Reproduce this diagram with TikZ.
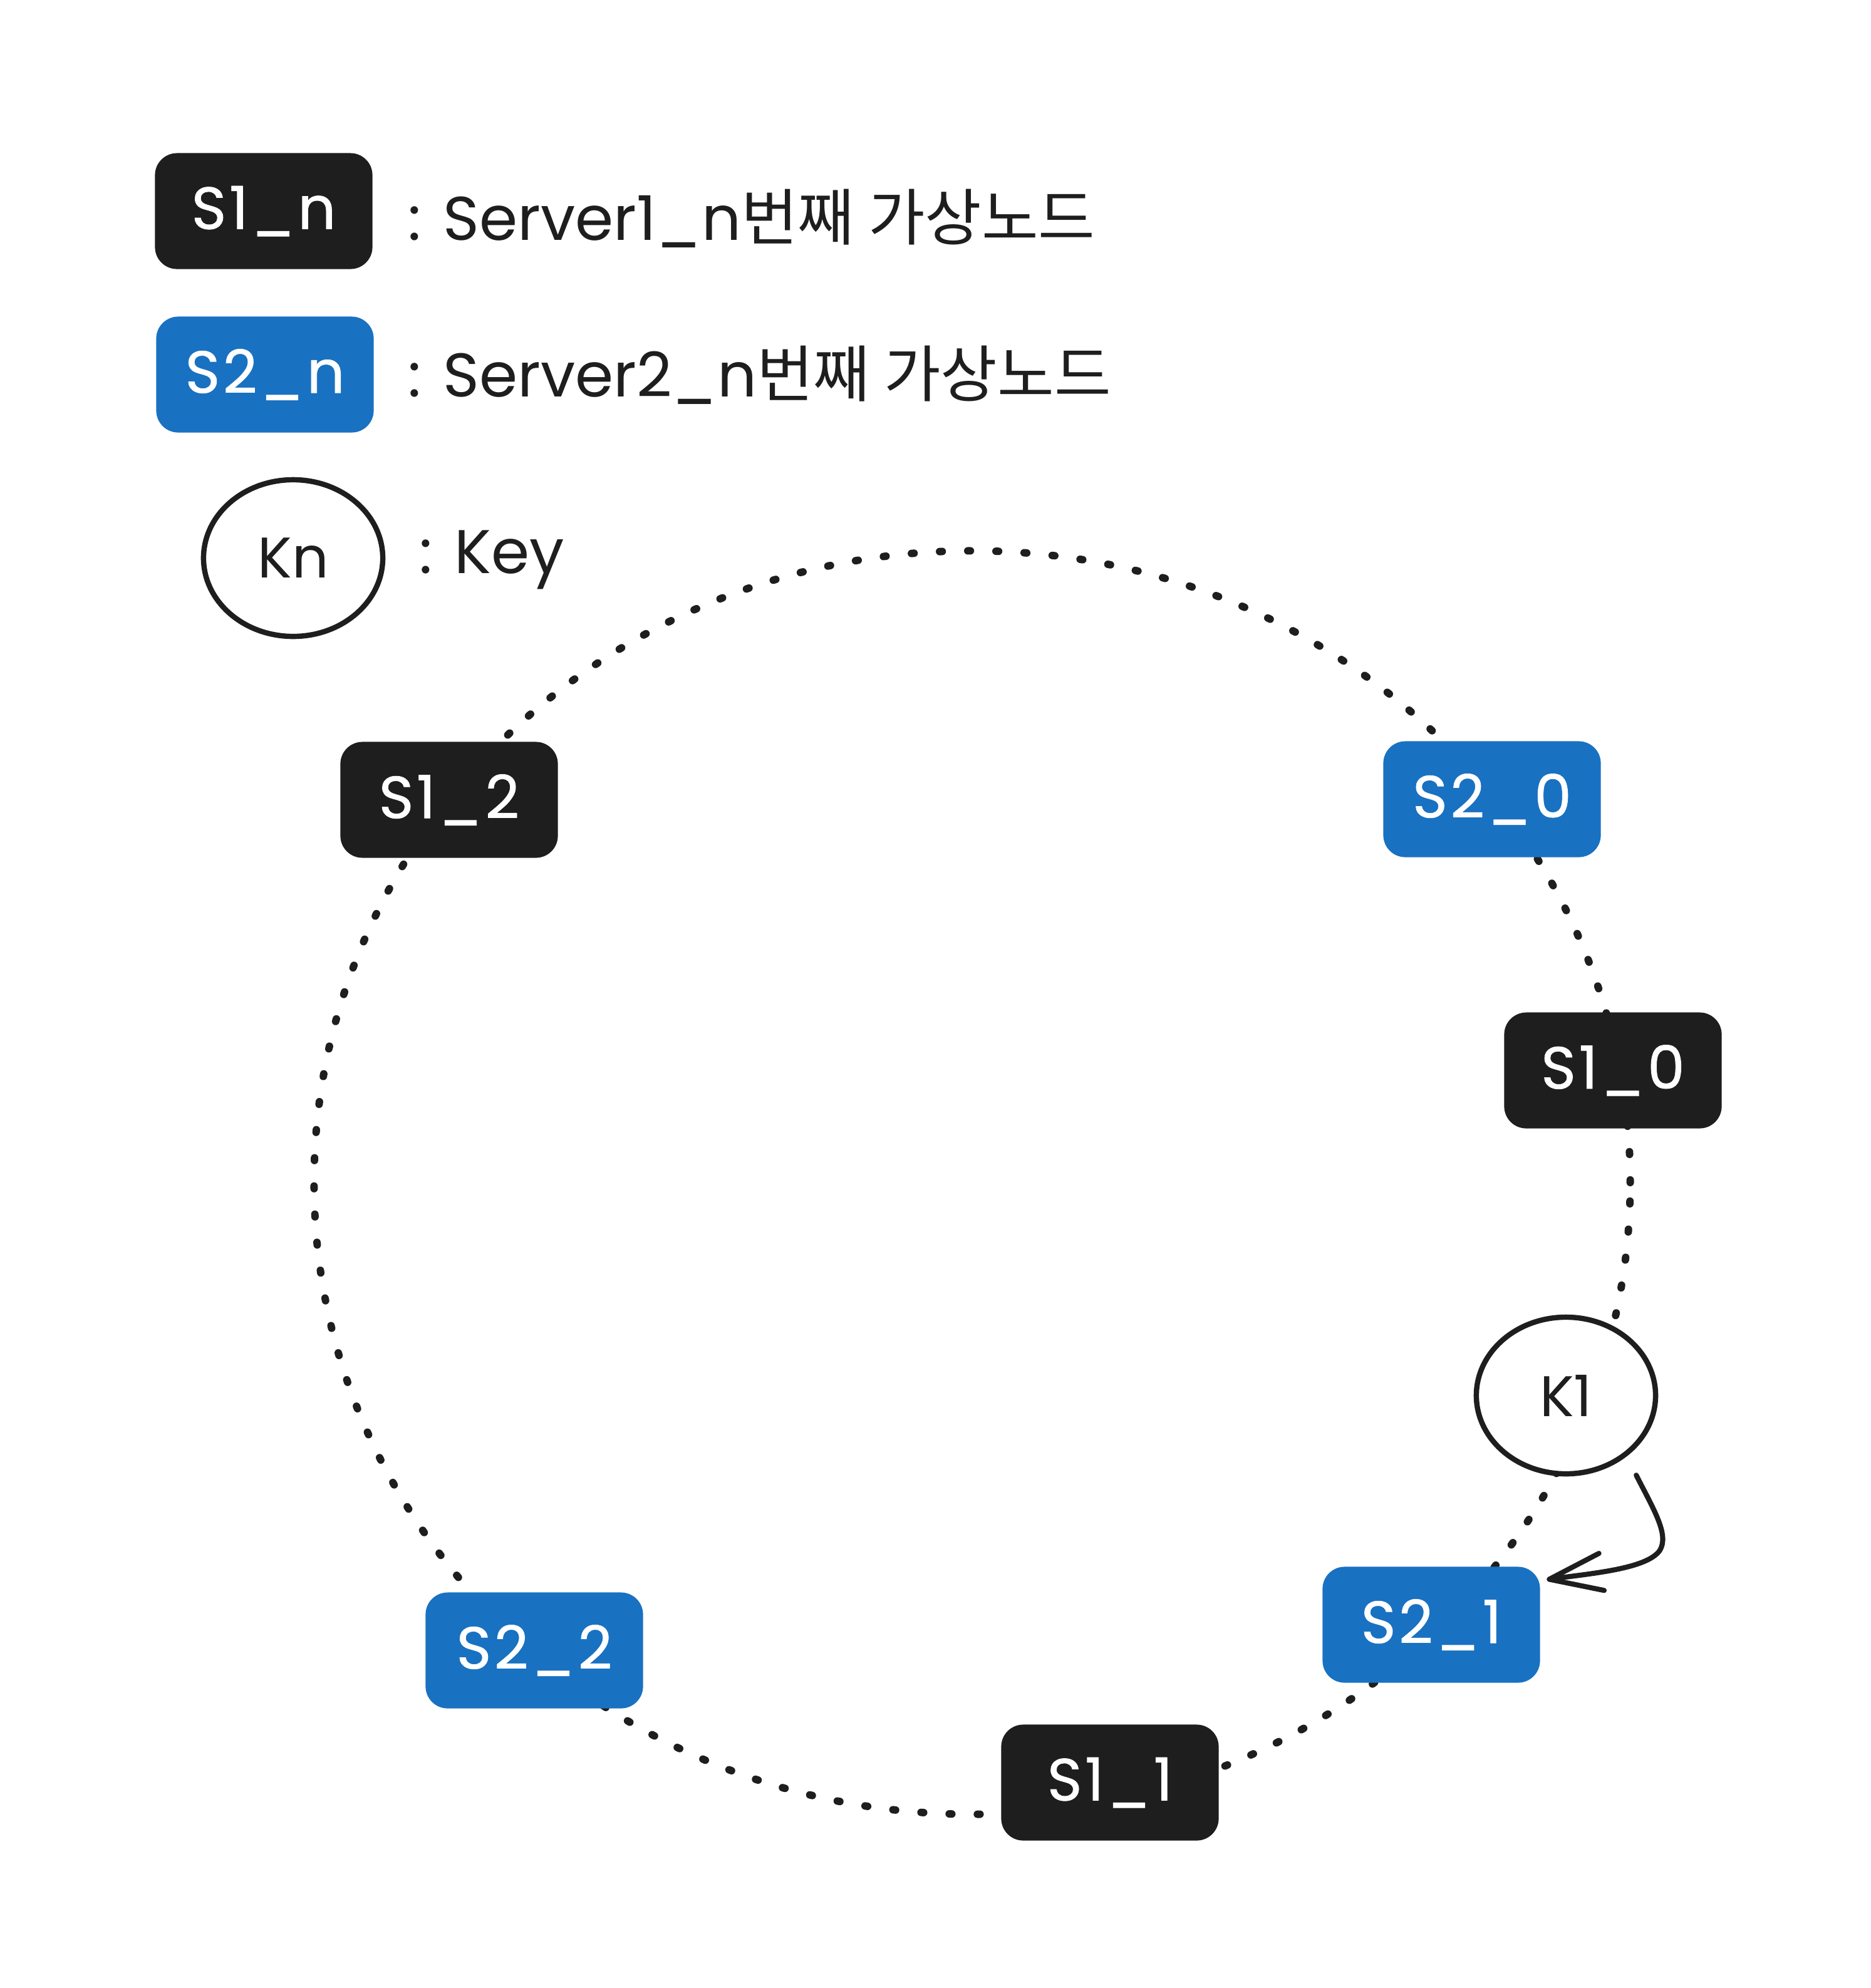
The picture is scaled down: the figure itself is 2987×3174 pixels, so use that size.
\documentclass[tikz,border=0pt]{standalone}
\usepackage{fontspec}
\setmainfont{Poppins}
\newfontfamily\kr{Noto Sans CJK KR}
\newfontfamily\lbl{Poppins}[LetterSpace=5,FakeBold=0.8]
\usetikzlibrary{arrows.meta,calc,shapes.geometric}
\definecolor{ink}{HTML}{1E1E1E}
\definecolor{sblue}{HTML}{1971C2}
\begin{document}
\begin{tikzpicture}[x=0.01cm,y=-0.01cm,
  vnode/.style={rectangle, rounded corners=10pt, minimum width=3.47cm, minimum height=1.85cm, text=white, font=\lbl\fontsize{27}{31}\selectfont, inner sep=0pt},
  s1/.style={vnode, fill=ink},
  s2/.style={vnode, fill=sblue},
  keynode/.style={ellipse, draw=ink, line width=2.4pt, fill=white, minimum width=2.86cm, minimum height=2.5cm, font=\fontsize{26}{30}\selectfont, text=ink, inner sep=0pt},
  legend/.style={anchor=base west, font=\fontsize{28}{32}\selectfont, text=ink, inner sep=0pt},
  ring/.style={draw=ink, line width=3.4pt, line cap=round, dash pattern=on 1.2pt off 11.6pt},
  pointer/.style={draw=ink, line width=2.3pt, line cap=round, -{Straight Barb[length=24pt,width=17pt,round]}}
]
\fill[white] (0,0) rectangle (2987,3174);
\useasboundingbox (0,0) rectangle (2987,3174);

% legend
\node[s1] (L1) at (421,337) {S1\_n};
\node[legend] (T1) at (651,383) {: Server1\_n{\kr 번째 가상노드}};
\node[s2] (L2) at (423,598) {S2\_n};
\node[legend] (T2) at (651,633) {: Server2\_n{\kr 번째 가상노드}};
\node[keynode] (Lk) at (468,891) {Kn};
\node[legend] (T3) at (669,915) {: Key};

% ring
\coordinate (ringc) at (1552,1888);
\draw[ring] (ringc) ellipse [x radius=10.5cm, y radius=10.08cm];

% virtual nodes
\node[s1] (S12) at (717,1277) {S1\_2};
\node[s2] (S20) at (2382,1276) {S2\_0};
\node[s1] (S10) at (2575,1709) {S1\_0};
\node[keynode] (K1) at (2500,2228) {K1};
\node[s2] (S21) at (2285,2594) {S2\_1};
\node[s1] (S11) at (1772,2846) {S1\_1};
\node[s2] (S22) at (853,2635) {S2\_2};

% key -> node
\draw[pointer] ([shift={(15,30)}]K1.-45) .. controls (2640,2410) and (2665,2450) .. (2650,2475)
  .. controls (2630,2505) and (2540,2512) .. ([shift={(10,-72)}]S21.east);
\end{tikzpicture}
\end{document}
